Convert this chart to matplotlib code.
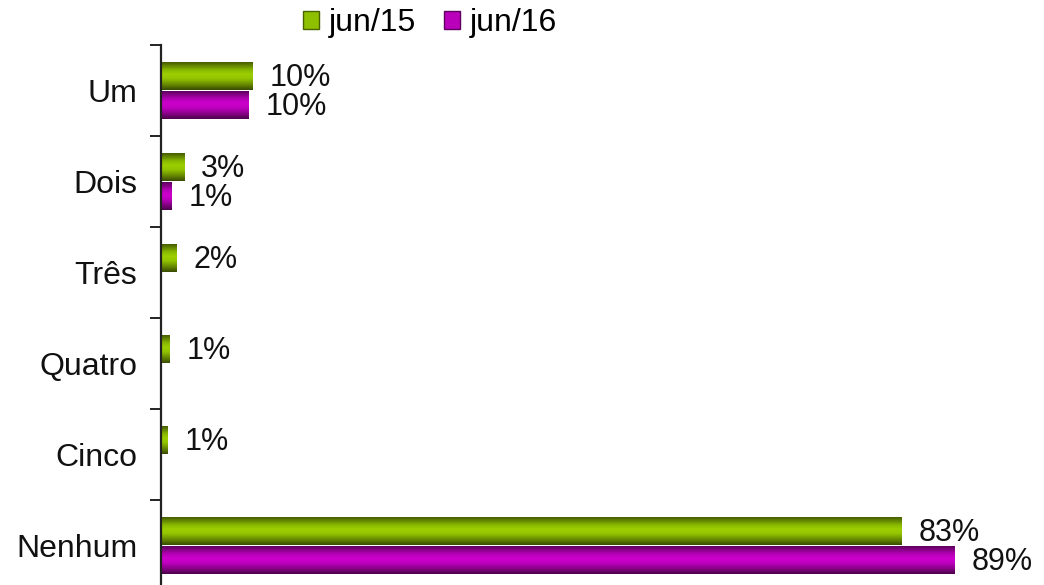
import numpy as np
import matplotlib
matplotlib.use("Agg")
import matplotlib.pyplot as plt
from matplotlib.colors import LinearSegmentedColormap
from matplotlib.patches import Patch

categories = ["Um", "Dois", "Três", "Quatro", "Cinco", "Nenhum"]
jun15 = [10.3, 2.6, 1.7, 1.0, 0.7, 83.0]
jun16 = [9.8, 1.2, None, None, None, 89.0]
jun15_labels = ["10%", "3%", "2%", "1%", "1%", "83%"]
jun16_labels = ["10%", "1%", "", "", "", "89%"]
series_names = ["jun/15", "jun/16"]

plt.rcParams['font.family'] = ['Liberation Sans', 'DejaVu Sans']

W, H = 1044, 585
fig = plt.figure(figsize=(W / 100, H / 100), dpi=100)
ax_left = 161 / W
ax_top = 1 - 45 / H
band = 91 / H
ax_bottom = ax_top - 6 * band
ax = fig.add_axes([ax_left, ax_bottom, 1 - ax_left, ax_top - ax_bottom])

xmax = (W - 161) / 8.92
bar_h = 0.31
off = 0.155

cmap_g = LinearSegmentedColormap.from_list(
    "g", [(0, "#3f5200"), (0.3, "#88b800"), (0.45, "#9ccf00"), (0.6, "#94c600"), (0.8, "#6a8e00"), (1, "#3a4c00")])
cmap_p = LinearSegmentedColormap.from_list(
    "p", [(0, "#520052"), (0.3, "#b400b4"), (0.45, "#cc00cc"), (0.6, "#c200c2"), (0.8, "#8e008e"), (1, "#4c004c")])
grad = np.linspace(0, 1, 64).reshape(-1, 1)

def gbar(y, w, cmap):
    bars = ax.barh([y], [w], height=bar_h, color="none", edgecolor="none")
    r = bars[0]
    im = ax.imshow(grad, cmap=cmap, aspect="auto", extent=(0, w, y + bar_h / 2, y - bar_h / 2),
                   origin="upper", interpolation="bilinear", zorder=2)
    im.set_clip_path(r)

ypos = np.arange(len(categories))
for i, (a, b) in enumerate(zip(jun15, jun16)):
    if a is not None:
        gbar(i - off, a, cmap_g)
        ax.annotate(jun15_labels[i], (a, i - off), xytext=(17, -2), textcoords="offset pixels",
                    va="center", ha="left", fontsize=22, color="#111111")
    if b is not None:
        gbar(i + off, b, cmap_p)
        ax.annotate(jun16_labels[i], (b, i + off), xytext=(17, -2), textcoords="offset pixels",
                    va="center", ha="left", fontsize=22, color="#111111")

ax.set_xlim(0, xmax)
ax.set_ylim(len(categories) - 0.5, -0.5)
for s in ["top", "right", "bottom"]:
    ax.spines[s].set_visible(False)
ax.spines["left"].set_color("#222222")
ax.spines["left"].set_linewidth(1.6)
ax.set_xticks([])
ax.set_yticks(ypos)
ax.set_yticklabels(categories, fontsize=23, color="#111111")
ax.tick_params(axis="y", which="major", length=0, pad=17)
ax.set_yticks(np.arange(-0.5, len(categories), 1.0), minor=True)
ax.tick_params(axis="y", which="minor", length=8, width=1.4, color="#222222", direction="out")

handles = [Patch(facecolor="#8fc000", edgecolor="#4a6200"), Patch(facecolor="#bb00bb", edgecolor="#5e005e")]
fig.legend(handles, series_names, loc="center", bbox_to_anchor=(430 / W, 1 - 23 / H), ncol=2, frameon=False,
           fontsize=23, handlelength=0.5, handleheight=0.5, handletextpad=0.3, columnspacing=0.9)

fig.savefig("out.png", dpi=100)
